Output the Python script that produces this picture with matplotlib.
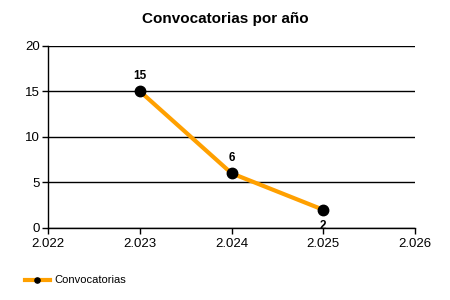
import matplotlib
matplotlib.use("Agg")
import matplotlib.pyplot as plt
from matplotlib.ticker import FuncFormatter

plt.rcParams['font.family'] = ['Liberation Sans', 'DejaVu Sans']

# data
years = [2023, 2024, 2025]
counts = [15, 6, 2]
series_name = "Convocatorias"
title = "Convocatorias por año"

fig = plt.figure(figsize=(4.5, 3), dpi=100)
ax = fig.add_axes([0.107, 0.24, 0.815, 0.608])

ax.plot(years, counts, color='#FFA000', lw=3, marker='o', ms=7.5,
        mfc='black', mec='black', label=series_name, zorder=3)

# value labels (last one goes below the point like in the original)
for i, (x, y) in enumerate(zip(years, counts)):
    off = 11 if i < len(years) - 1 else -11.5
    ax.annotate(str(y), (x, y), xytext=(0, off), textcoords='offset points',
                ha='center', va='center', fontsize=8.5, fontweight='bold', zorder=4)

ax.set_xlim(2022, 2026)
ax.set_ylim(0, 20)
ax.set_xticks(range(2022, 2027))
ax.set_yticks(range(0, 21, 5))
ax.xaxis.set_major_formatter(FuncFormatter(lambda v, p: f"{int(v):,}".replace(",", ".")))
ax.yaxis.grid(True, color='black', lw=1)
ax.set_axisbelow(True)
for s in ['top', 'right']:
    ax.spines[s].set_visible(False)
ax.spines['left'].set_linewidth(1)
ax.spines['bottom'].set_linewidth(1)
ax.tick_params(labelsize=9.5, length=4, width=1, pad=2)
ax.tick_params(axis='x', pad=3.5)

fig.text(0.5, 0.935, title, ha='center', va='center', fontsize=11, fontweight='bold')

ax.legend(loc='lower left', bbox_to_anchor=(-0.09, -0.37), frameon=False,
          fontsize=8, handlelength=2.2, handletextpad=0.4, markerscale=0.5)

fig.savefig("out.png", dpi=100)
